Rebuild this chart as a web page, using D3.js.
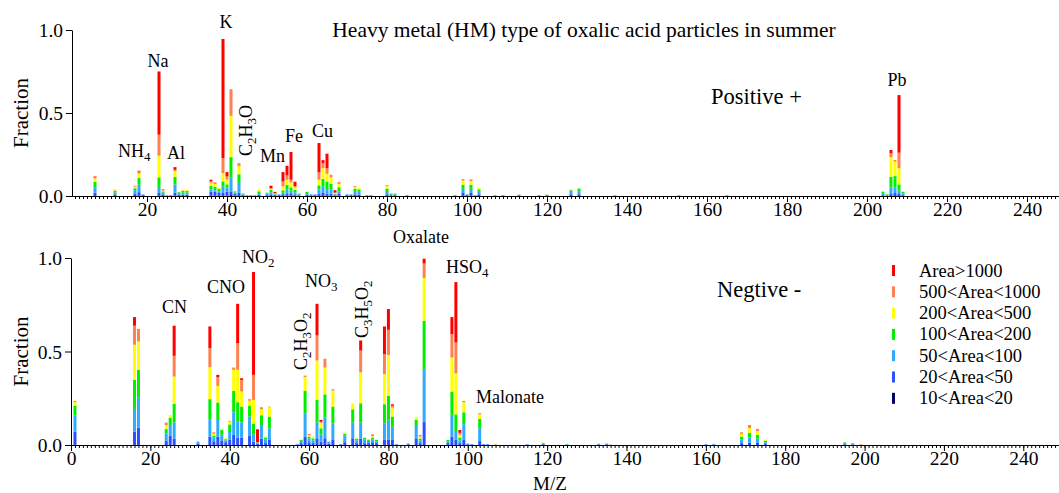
<!DOCTYPE html>
<html>
<head>
<meta charset="utf-8">
<script src="https://cdn.jsdelivr.net/npm/d3@7"></script>
<style>
  body { margin: 0; background: #fff; }
  svg text { font-family: "Liberation Serif", "Times New Roman", serif; fill: #000; }
</style>
</head>
<body>
<svg id="chart" width="1059" height="493"></svg>
<script>
// area classes, bottom of stack first
var categories = ["10<Area<20", "20<Area<50", "50<Area<100", "100<Area<200", "200<Area<500", "500<Area<1000", "Area>1000"];
var colors = ["#000066", "#2b50ff", "#2eaaff", "#00ee00", "#ffff00", "#ff8050", "#ff0000"];
var xTickLabels = [0, 20, 40, 60, 80, 100, 120, 140, 160, 180, 200, 220, 240];
var yTickLabels = [0, 0.5, 1.0];

// positive spectrum: [m/z, 10-20, 20-50, 50-100, 100-200, 200-500, 500-1000, >1000]
var positiveBars = [
  [7, 0, .02, .03, .035, .02, .015, 0],
  [12, 0, .01, .01, .01, .005, .003, 0],
  [17, 0, .015, .02, .012, .01, .005, 0],
  [18, .003, .02, .045, .04, .027, .012, .005],
  [19, 0, .005, .005, 0, 0, 0, 0],
  [23, .003, .015, .036, .058, .131, .126, .381],
  [24, 0, .01, .01, .008, .005, .004, .003],
  [25, 0, .003, .002, 0, 0, 0, 0],
  [26, 0, .003, .002, 0, 0, 0, 0],
  [27, .003, .017, .05, .045, .035, .008, .016],
  [28, 0, .008, .01, .005, .002, 0, 0],
  [29, 0, .008, .012, .01, .005, .002, 0],
  [30, 0, .008, .012, .01, .005, 0, 0],
  [36, .003, .022, .015, .02, .02, .01, .008],
  [37, .003, .022, .01, .02, .017, .01, 0],
  [38, .003, .015, .01, .015, .005, 0, 0],
  [39, .004, .018, .036, .03, .05, .09, .718],
  [40, .003, .022, .025, .02, .03, .018, .026],
  [41, .005, .023, .084, .122, .249, .16, 0],
  [42, .003, .01, .008, .007, 0, 0, 0],
  [43, .004, .015, .06, .052, .05, .017, 0],
  [44, 0, .005, .005, .005, 0, 0, 0],
  [45, 0, .003, .002, 0, 0, 0, 0],
  [46, 0, .003, .002, 0, 0, 0, 0],
  [47, 0, .003, .002, 0, 0, 0, 0],
  [48, 0, .008, .01, .01, .01, 0, 0],
  [50, 0, .005, .01, .005, 0, 0, 0],
  [51, 0, .01, .012, .015, .005, .005, .015],
  [52, 0, .005, .005, .005, 0, .003, .007],
  [53, 0, .005, .005, 0, 0, 0, 0],
  [54, .003, .008, .008, .015, .024, .03, .056],
  [55, .003, .009, .026, .028, .032, .026, .058],
  [56, .003, .009, .02, .02, .03, .016, .167],
  [57, .002, .008, .012, .015, .015, .006, .028],
  [58, 0, .005, .005, .005, 0, 0, 0],
  [60, 0, .008, .01, .007, 0, 0, 0],
  [61, 0, .005, .005, 0, 0, 0, 0],
  [62, 0, .005, .005, 0, 0, 0, 0],
  [63, .003, .011, .024, .026, .034, .044, .177],
  [64, .004, .018, .036, .044, .066, .03, .018],
  [65, .003, .012, .022, .051, .046, .034, .087],
  [66, .003, .01, .025, .035, .04, .015, 0],
  [67, 0, .005, .005, .005, .005, 0, .015],
  [68, .003, .01, .015, .025, .02, .011, 0],
  [70, 0, .005, .005, 0, 0, 0, 0],
  [71, 0, .005, .005, 0, 0, 0, 0],
  [72, 0, .01, .02, .015, .01, .005, 0],
  [73, 0, .01, .015, .015, .01, 0, 0],
  [75, 0, .003, .002, 0, 0, 0, 0],
  [76, 0, .003, .002, 0, 0, 0, 0],
  [80, 0, .01, .02, .015, .015, .005, 0],
  [81, 0, .005, .005, .005, 0, 0, 0],
  [82, 0, .005, .005, .005, 0, 0, 0],
  [85, 0, .003, .002, 0, 0, 0, 0],
  [97, 0, .003, .002, 0, 0, 0, 0],
  [99, .003, .015, .025, .025, .025, .009, 0],
  [100, 0, .005, .005, 0, 0, 0, 0],
  [101, .003, .015, .025, .025, .022, .01, 0],
  [102, 0, .003, .002, 0, 0, 0, 0],
  [103, 0, .01, .015, .015, .01, 0, 0],
  [107, 0, .003, .002, 0, 0, 0, 0],
  [109, 0, .003, .002, 0, 0, 0, 0],
  [113, 0, .004, .004, 0, .002, 0, 0],
  [118, 0, .003, .002, 0, 0, 0, 0],
  [120, 0, .004, .004, 0, .002, 0, 0],
  [126, 0, .01, .02, .005, .005, 0, 0],
  [128, 0, .01, .015, .02, 0, 0, 0],
  [137, 0, .002, .001, .002, 0, 0, 0],
  [153, 0, .002, .002, .001, 0, 0, 0],
  [165, 0, .002, .002, .001, 0, 0, 0],
  [204, 0, .005, .012, .009, 0, 0, 0],
  [205, 0, .003, .003, .004, 0, 0, 0],
  [206, .004, .012, .036, .064, .117, .024, .02],
  [207, .004, .014, .034, .068, .087, .01, 0],
  [208, .004, .008, .02, .038, .097, .094, .347],
  [209, 0, .005, .01, .01, .005, 0, 0]
];

// negative spectrum, same layout
var negativeBars = [
  [1, 0, .071, .086, .054, .018, .007, 0],
  [16, 0, .071, .122, .155, .188, .102, .046],
  [17, 0, .093, .162, .147, .152, .067, 0],
  [24, 0, .021, .041, .023, .021, .014, 0],
  [25, 0, .048, .059, .039, .015, 0, 0],
  [26, 0, .034, .086, .1, .146, .111, .161],
  [32, 0, .008, .01, 0, 0, 0, 0],
  [35, 0, .045, .093, .107, .171, .102, .116],
  [36, 0, .02, .02, .01, .01, .008, 0],
  [37, 0, .045, .094, .088, .089, .047, .012],
  [38, 0, .025, .03, .025, .006, 0, 0],
  [39, 0, .015, .01, .006, .005, 0, 0],
  [40, 0, .03, .045, .035, .015, .004, 0],
  [41, 0, .054, .121, .114, .113, .012, 0],
  [42, 0, .039, .086, .104, .173, .143, .21],
  [43, 0, .039, .082, .084, .081, .062, .009],
  [45, 0, .048, .104, .059, .026, .008, 0],
  [46, 0, .018, .039, .056, .128, .134, .55],
  [47, 0, .005, .003, .005, 0, .002, .069],
  [48, 0, .034, .073, .052, .032, .011, 0],
  [49, 0, .01, .02, .01, .005, 0, 0],
  [50, 0, .027, .062, .063, .05, .003, 0],
  [57, 0, .003, .002, 0, 0, 0, 0],
  [58, 0, .01, .012, .005, 0, 0, 0],
  [59, 0, .045, .125, .119, .075, .007, 0],
  [60, 0, .015, .02, .01, .007, .007, 0],
  [61, 0, .01, .015, .01, .006, 0, 0],
  [62, 0, .032, .088, .121, .211, .134, .169],
  [63, 0, .018, .039, .032, .03, .005, .01],
  [64, 0, .036, .11, .125, .143, .047, 0],
  [65, 0, .008, .01, 0, 0, 0, 0],
  [66, 0, .03, .086, .089, .086, .007, 0],
  [68, 0, .003, .002, 0, 0, 0, 0],
  [69, 0, .015, .035, .01, .006, 0, 0],
  [71, 0, .036, .084, .071, .032, 0, 0],
  [72, 0, .01, .015, .008, .003, 0, 0],
  [73, 0, .034, .086, .103, .165, .117, .054],
  [74, 0, .01, .02, .008, .003, 0, 0],
  [75, 0, .01, .012, .007, .003, 0, 0],
  [76, 0, .015, .015, .01, .007, .01, 0],
  [77, 0, .01, .01, .007, .003, 0, 0],
  [79, 0, .03, .086, .102, .161, .107, .148],
  [80, 0, .03, .1, .133, .219, .134, .111],
  [81, 0, .027, .071, .054, .048, .01, .008],
  [82, 0, .003, .002, 0, 0, 0, 0],
  [85, 0, .004, .004, 0, 0, 0, 0],
  [87, 0, .032, .07, .032, .014, 0, 0],
  [88, 0, .01, .015, .01, .01, .009, 0],
  [89, 0, .125, .28, .259, .229, .077, .026],
  [95, 0, .01, .01, .007, 0, 0, 0],
  [96, 0, .045, .116, .125, .182, .125, .091],
  [97, 0, .027, .048, .089, .22, .164, .323],
  [98, 0, .01, .015, .015, .015, .01, .015],
  [99, 0, .03, .081, .064, .054, .007, 0],
  [100, 0, .004, .004, 0, 0, 0, 0],
  [101, 0, .003, .002, 0, 0, 0, 0],
  [103, 0, .021, .068, .05, .025, .006, 0],
  [104, 0, .003, .002, 0, 0, 0, 0],
  [105, 0, .003, .002, 0, 0, 0, 0],
  [107, 0, 0, .002, 0, .002, .001, 0],
  [115, 0, .002, .002, 0, 0, 0, 0],
  [119, 0, .004, .006, 0, .004, 0, 0],
  [125, 0, 0, .003, .002, 0, 0, 0],
  [133, 0, .003, .004, 0, .001, 0, 0],
  [135, 0, .004, .004, 0, .004, 0, 0],
  [136, 0, 0, .002, 0, .002, 0, 0],
  [160, 0, .002, .003, 0, 0, 0, 0],
  [162, 0, .002, .004, 0, 0, 0, 0],
  [169, 0, .01, .02, .015, .015, .008, 0],
  [171, 0, .012, .028, .025, .025, .017, 0],
  [173, 0, .012, .022, .02, .02, .012, 0],
  [175, 0, .005, .01, .008, .007, 0, 0],
  [195, 0, .004, .006, .004, 0, 0, 0],
  [197, 0, .003, .004, .003, 0, 0, 0],
  [199, 0, 0, 0, 0, .002, .003, 0]
];

// peak labels: text parts [string, isSubscript]
var positiveLabels = [
  {t: [["Na", 0]], x: 158, y: 67, anchor: "middle"},
  {t: [["K", 0]], x: 226, y: 28, anchor: "middle"},
  {t: [["NH", 0], ["4", 1]], x: 118, y: 157, anchor: "start"},
  {t: [["Al", 0]], x: 167, y: 159, anchor: "start"},
  {t: [["C", 0], ["2", 1], ["H", 0], ["3", 1], ["O", 0]], x: 252, y: 156, anchor: "start", rot: true},
  {t: [["Mn", 0]], x: 260, y: 162, anchor: "start"},
  {t: [["Fe", 0]], x: 285, y: 142, anchor: "start"},
  {t: [["Cu", 0]], x: 312, y: 137, anchor: "start"},
  {t: [["Pb", 0]], x: 897, y: 86, anchor: "middle"}
];
var negativeLabels = [
  {t: [["CN", 0]], x: 162, y: 313, anchor: "start"},
  {t: [["CNO", 0]], x: 207, y: 293, anchor: "start"},
  {t: [["NO", 0], ["2", 1]], x: 242, y: 263, anchor: "start"},
  {t: [["C", 0], ["2", 1], ["H", 0], ["3", 1], ["O", 0], ["2", 1]], x: 307, y: 370, anchor: "start", rot: true},
  {t: [["NO", 0], ["3", 1]], x: 305, y: 287, anchor: "start"},
  {t: [["C", 0], ["3", 1], ["H", 0], ["5", 1], ["O", 0], ["2", 1]], x: 368, y: 338, anchor: "start", rot: true},
  {t: [["HSO", 0], ["4", 1]], x: 446, y: 273, anchor: "start"},
  {t: [["Malonate", 0]], x: 476, y: 403, anchor: "start"},
  {t: [["Oxalate", 0]], x: 393, y: 243, anchor: "start"}
];

var FONT = "'Liberation Serif', 'Times New Roman', serif";
var svg = d3.select("#chart");

function drawPanel(bars, x, y, labels) {
  var g = svg.append("g");
  var rows = bars.map(function (b) {
    var o = {mz: b[0]};
    categories.forEach(function (c, i) { o[c] = b[i + 1]; });
    return o;
  });
  var series = d3.stack().keys(categories)(rows);

  g.selectAll("g.layer")
    .data(series)
    .enter().append("g")
      .attr("fill", function (d, i) { return colors[i]; })
    .selectAll("rect")
    .data(function (d) { return d; })
    .enter().append("rect")
      .attr("x", function (d) { return x(d.data.mz) - 1.5; })
      .attr("width", 3)
      .attr("y", function (d) { return y(d[1]); })
      .attr("height", function (d) { return Math.max(0, y(d[0]) - y(d[1])); });

  var y0 = y(0);
  var dom = x.domain();
  var minor = d3.range(Math.ceil(dom[0]), Math.floor(dom[1]) + 1);
  var minorAxis = d3.axisBottom(x).tickValues(minor).tickSize(3).tickSizeOuter(0).tickFormat("");
  g.append("g").attr("transform", "translate(0," + y0 + ")").call(minorAxis);

  var majors = xTickLabels.filter(function (v) { return v >= dom[0]; });
  var majorAxis = d3.axisBottom(x).tickValues(majors).tickSize(6).tickSizeOuter(0).tickFormat(d3.format("d"));
  var ga = g.append("g").attr("transform", "translate(0," + y0 + ")").call(majorAxis);
  ga.attr("font-family", FONT);
  ga.selectAll("text").attr("font-size", 19.5).attr("dy", 0).attr("y", 20);

  var yAxis = d3.axisLeft(y).tickValues(yTickLabels).tickSize(6).tickSizeOuter(0).tickFormat(d3.format(".1f"));
  var gy = g.append("g").attr("transform", "translate(" + x.range()[0] + ",0)").call(yAxis);
  gy.attr("font-family", FONT);
  gy.selectAll("text").attr("font-size", 19.5).attr("x", -9).attr("dy", "0.35em");
  g.selectAll(".domain, .tick line").attr("stroke", "#000").attr("stroke-width", 1);

  g.append("text")
    .attr("transform", "translate(28," + (y(0.5)) + ") rotate(-90)")
    .attr("text-anchor", "middle")
    .attr("font-family", FONT)
    .attr("font-size", 21)
    .text("Fraction");

  labels.forEach(function (l) {
    var t = g.append("text")
      .attr("font-family", FONT)
      .attr("font-size", 18)
      .attr("text-anchor", l.anchor);
    if (l.rot) t.attr("transform", "translate(" + l.x + "," + l.y + ") rotate(-90)");
    else t.attr("x", l.x).attr("y", l.y);
    l.t.forEach(function (p) {
      t.append("tspan")
        .attr("font-size", p[1] ? 13 : 18)
        .attr("baseline-shift", p[1] ? "-4" : null)
        .text(p[0]);
    });
  });
}

var xTop = d3.scaleLinear().domain([1.25, 248]).range([72, 1059]);
var yTop = d3.scaleLinear().domain([0, 1]).range([196, 30]);
var xBot = d3.scaleLinear().domain([0, 249]).range([71, 1059]);
var yBot = d3.scaleLinear().domain([0, 1]).range([445, 258]);

drawPanel(positiveBars, xTop, yTop, positiveLabels);
drawPanel(negativeBars, xBot, yBot, negativeLabels);

svg.append("text").attr("x", 584).attr("y", 37).attr("text-anchor", "middle")
  .attr("font-family", FONT).attr("font-size", 21.5)
  .text("Heavy metal (HM) type of oxalic acid particles in summer");
svg.append("text").attr("x", 711).attr("y", 104).attr("font-family", FONT)
  .attr("font-size", 22.5).text("Positive +");
svg.append("text").attr("x", 717).attr("y", 297).attr("font-family", FONT)
  .attr("font-size", 22.5).text("Negtive -");
svg.append("text").attr("x", 550).attr("y", 490).attr("text-anchor", "middle")
  .attr("font-family", FONT).attr("font-size", 19).text("M/Z");

// legend
var legend = svg.append("g");
var legendRows = categories.slice().reverse();
legendRows.forEach(function (c, i) {
  var ly = 271 + i * 21.3;
  legend.append("rect").attr("x", 892).attr("y", ly - 6).attr("width", 3).attr("height", 11)
    .attr("fill", colors[categories.length - 1 - i]);
  legend.append("text").attr("x", 919).attr("y", ly + 5.5).attr("font-family", FONT)
    .attr("font-size", 18.5).text(c);
});
</script>
</body>
</html>
